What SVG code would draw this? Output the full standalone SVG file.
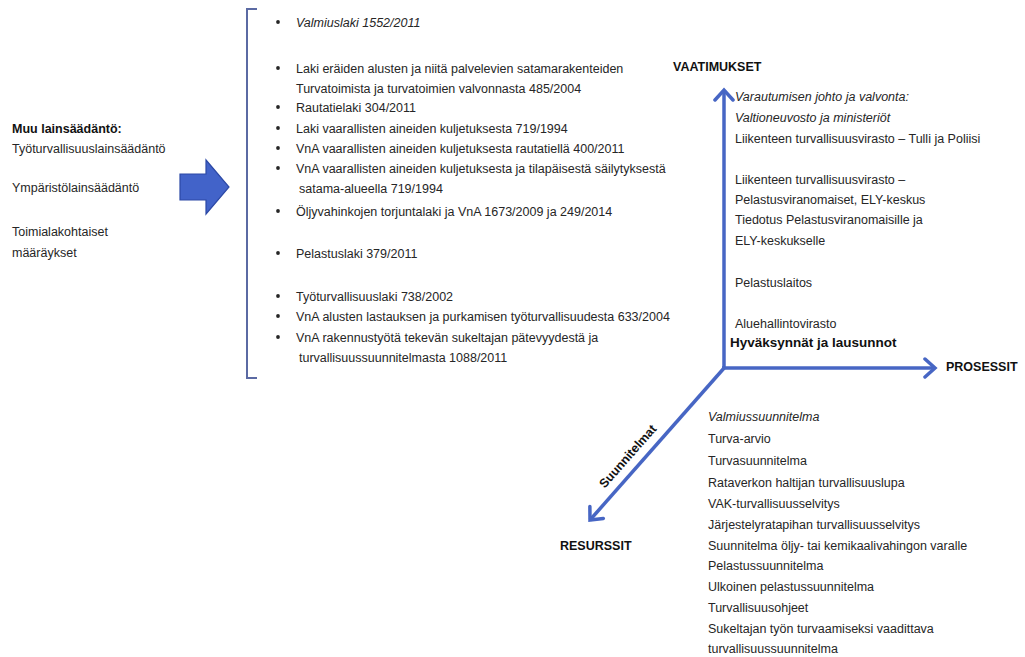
<svg xmlns="http://www.w3.org/2000/svg" width="1025" height="657" viewBox="0 0 1025 657">
<style>
text{font-family:"Liberation Sans",Arial,sans-serif;font-size:12.5px;fill:#262626}
.b{font-weight:bold;fill:#111}
.i{font-style:italic}
.ax{stroke:#4766c4;stroke-width:3.5;fill:none}
</style>
<defs>
<marker id="ah" markerUnits="userSpaceOnUse" markerWidth="24" markerHeight="24" refX="12" refY="12" orient="auto" viewBox="0 0 24 24">
<path d="M2,3 L12,12 L2,21" fill="none" stroke="#4766c4" stroke-width="3.5" stroke-linecap="round" stroke-linejoin="miter"/>
</marker>
</defs>
<rect width="1025" height="657" fill="#fff"/>
<g id="muu">
<text x="12" y="133" class="b">Muu lainsäädäntö:</text>
<text x="12" y="153">Työturvallisuuslainsäädäntö</text>
<text x="12" y="192">Ympäristölainsäädäntö</text>
<text x="12" y="236">Toimialakohtaiset</text>
<text x="12" y="257">määräykset</text>
</g>
<g id="bigarrow">
<polygon points="180,174 206,174 206,160 229,187 206,214 206,200 180,200" fill="#4263c9" stroke="#2c49a6" stroke-width="1.2"/>
</g>
<g id="laws">
<path d="M257,9 L247,9 L247,378 L257,378" fill="none" stroke="#5b6aa3" stroke-width="2"/>
<g fill="#262626">
<circle cx="278" cy="22" r="1.9"/><circle cx="278" cy="68" r="1.9"/><circle cx="278" cy="107" r="1.9"/>
<circle cx="278" cy="128" r="1.9"/><circle cx="278" cy="148" r="1.9"/><circle cx="278" cy="168" r="1.9"/>
<circle cx="278" cy="211" r="1.9"/><circle cx="278" cy="253" r="1.9"/><circle cx="278" cy="296" r="1.9"/>
<circle cx="278" cy="316" r="1.9"/><circle cx="278" cy="337" r="1.9"/>
</g>
<text x="296" y="27" class="i">Valmiuslaki 1552/2011</text>
<text x="296" y="73">Laki eräiden alusten ja niitä palvelevien satamarakenteiden</text>
<text x="296" y="93">Turvatoimista ja turvatoimien valvonnasta 485/2004</text>
<text x="296" y="112">Rautatielaki  304/2011</text>
<text x="296" y="133">Laki vaarallisten aineiden kuljetuksesta 719/1994</text>
<text x="296" y="153">VnA vaarallisten aineiden kuljetuksesta rautatiellä 400/2011</text>
<text x="296" y="173">VnA vaarallisten aineiden kuljetuksesta ja tilapäisestä säilytyksestä</text>
<text x="299" y="193">satama-alueella 719/1994</text>
<text x="296" y="216">Öljyvahinkojen torjuntalaki ja VnA 1673/2009 ja 249/2014</text>
<text x="296" y="258">Pelastuslaki 379/2011</text>
<text x="296" y="301">Työturvallisuuslaki 738/2002</text>
<text x="296" y="321">VnA alusten lastauksen ja purkamisen työturvallisuudesta 633/2004</text>
<text x="296" y="342">VnA rakennustyötä tekevän sukeltajan pätevyydestä ja</text>
<text x="299" y="362">turvallisuussuunnitelmasta 1088/2011</text>
</g>
<g id="connectors">
<line x1="724" y1="369" x2="724" y2="90" class="ax" marker-end="url(#ah)"/>
<line x1="722" y1="368" x2="935" y2="368" class="ax" marker-end="url(#ah)"/>
<line x1="725" y1="367" x2="590" y2="520" class="ax" marker-end="url(#ah)"/>
</g>
<g id="vaatimukset">
<text x="673" y="71" class="b">VAATIMUKSET</text>
<text x="735" y="101" class="i">Varautumisen johto ja valvonta:</text>
<text x="735" y="122" class="i">Valtioneuvosto ja ministeriöt</text>
<text x="735" y="143">Liikenteen turvallisuusvirasto – Tulli ja Poliisi</text>
<text x="735" y="184">Liikenteen turvallisuusvirasto –</text>
<text x="735" y="204">Pelastusviranomaiset, ELY-keskus</text>
<text x="735" y="224">Tiedotus Pelastusviranomaisille ja</text>
<text x="735" y="245">ELY-keskukselle</text>
<text x="735" y="287">Pelastuslaitos</text>
<text x="735" y="328">Aluehallintovirasto</text>
<text x="730" y="347" class="b" style="font-size:13.5px">Hyväksynnät ja lausunnot</text>
</g>
<g id="prosessit">
<text x="946" y="371" class="b">PROSESSIT</text>
</g>
<g id="resurssit">
<text x="0" y="0" class="b" text-anchor="middle" transform="translate(631 459) rotate(-48.6)">Suunnitelmat</text>
<text x="560" y="550" class="b">RESURSSIT</text>
<text x="708" y="421" class="i">Valmiussuunnitelma</text>
<text x="708" y="443">Turva-arvio</text>
<text x="708" y="465">Turvasuunnitelma</text>
<text x="708" y="487">Rataverkon haltijan turvallisuuslupa</text>
<text x="708" y="508">VAK-turvallisuusselvitys</text>
<text x="708" y="529">Järjestelyratapihan turvallisuusselvitys</text>
<text x="708" y="550">Suunnitelma öljy- tai kemikaalivahingon varalle</text>
<text x="708" y="570">Pelastussuunnitelma</text>
<text x="708" y="591">Ulkoinen pelastussuunnitelma</text>
<text x="708" y="612">Turvallisuusohjeet</text>
<text x="708" y="633">Sukeltajan työn turvaamiseksi vaadittava</text>
<text x="708" y="653">turvallisuussuunnitelma</text>
</g>
</svg>
